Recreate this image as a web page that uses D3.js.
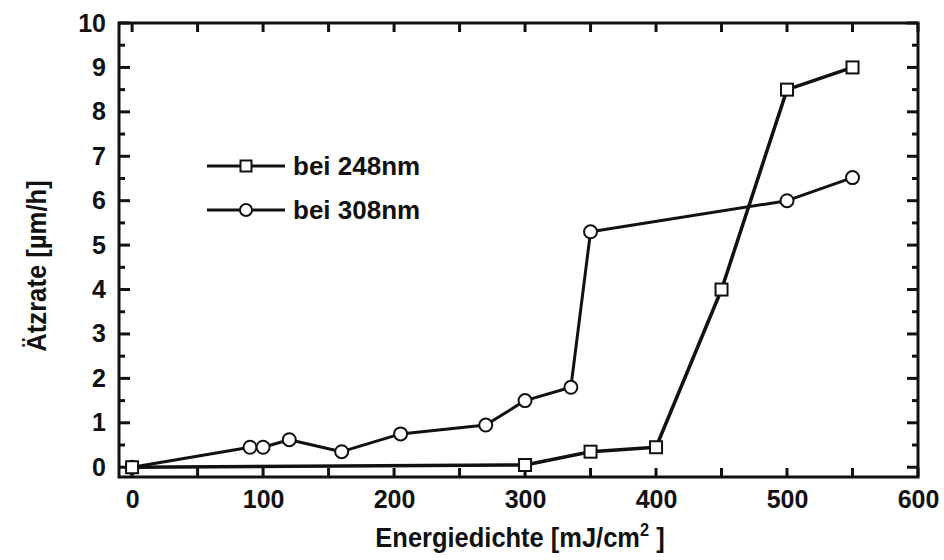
<!DOCTYPE html>
<html>
<head>
<meta charset="utf-8">
<script src="https://cdn.jsdelivr.net/npm/d3@7"></script>
<style>
  html, body { margin: 0; padding: 0; background: #fff; }
  svg text { font-family: "Liberation Sans", Arial, Helvetica, sans-serif; font-weight: bold; fill: #111; }
</style>
</head>
<body>
<svg id="chart" width="944" height="560"></svg>
<script>
// Etch rate vs. energy density for two laser wavelengths
const energy248 = [0, 300, 350, 400, 450, 500, 550];
const rate248   = [0, 0.05, 0.35, 0.45, 4.0, 8.5, 9.0];

const energy308 = [0, 90, 100, 120, 160, 205, 270, 300, 335, 350, 500, 550];
const rate308   = [0, 0.45, 0.45, 0.62, 0.35, 0.75, 0.95, 1.5, 1.8, 5.3, 6.0, 6.52];

const xTicks = [0, 100, 200, 300, 400, 500, 600];
const yTicks = [0, 1, 2, 3, 4, 5, 6, 7, 8, 9, 10];
const seriesNames = ["bei 248nm", "bei 308nm"];

const svg = d3.select("#chart");
const plot = { left: 119, right: 918, top: 23, bottom: 477 };

const x = d3.scaleLinear().domain([-10, 600]).range([plot.left, plot.right]);
const y = d3.scaleLinear().domain([-0.22, 10]).range([plot.bottom, plot.top]);

const ink = "#111";

// Frame
svg.append("rect")
  .attr("x", plot.left).attr("y", plot.top)
  .attr("width", plot.right - plot.left).attr("height", plot.bottom - plot.top)
  .attr("fill", "none").attr("stroke", ink).attr("stroke-width", 3);

// Tick labels
const bottomAxis = d3.axisBottom(x).tickValues(xTicks).tickSize(0).tickPadding(13).tickFormat(d3.format("d"));
const gx = svg.append("g").attr("transform", `translate(0,${plot.bottom})`).call(bottomAxis);
gx.select(".domain").remove();
gx.selectAll("text").attr("font-size", 25).attr("dy", "0.71em");

const leftAxis = d3.axisLeft(y).tickValues(yTicks).tickSize(0).tickPadding(13).tickFormat(d3.format("d"));
const gy = svg.append("g").attr("transform", `translate(${plot.left},0)`).call(leftAxis);
gy.select(".domain").remove();
gy.selectAll("text").attr("font-size", 25);

// Inward ticks on all four sides
const xMinor = d3.range(0, 601, 50);
const yMinor = d3.range(0.5, 10, 1);
const tickG = svg.append("g").attr("stroke", ink).attr("stroke-width", 3);
xMinor.forEach(v => {
  const len = 9;
  tickG.append("line").attr("x1", x(v)).attr("x2", x(v)).attr("y1", plot.bottom).attr("y2", plot.bottom - len);
  tickG.append("line").attr("x1", x(v)).attr("x2", x(v)).attr("y1", plot.top).attr("y2", plot.top + len);
});
yTicks.forEach(v => {
  tickG.append("line").attr("x1", plot.left).attr("x2", plot.left + 11).attr("y1", y(v)).attr("y2", y(v));
  tickG.append("line").attr("x1", plot.right).attr("x2", plot.right - 11).attr("y1", y(v)).attr("y2", y(v));
});
yMinor.forEach(v => {
  tickG.append("line").attr("x1", plot.left).attr("x2", plot.left + 6).attr("y1", y(v)).attr("y2", y(v));
  tickG.append("line").attr("x1", plot.right).attr("x2", plot.right - 6).attr("y1", y(v)).attr("y2", y(v));
});

// Axis titles
const xTitleX = 520;
const xt = svg.append("text")
  .attr("transform", `translate(${xTitleX},547) scale(0.91,1)`)
  .attr("text-anchor", "middle").attr("font-size", 28);
xt.append("tspan").text("Energiedichte [mJ/cm");
xt.append("tspan").attr("font-size", 18).attr("dy", -11).text("2");
xt.append("tspan").attr("dy", 11).text(" ]");

svg.append("text")
  .attr("transform", `translate(46,266) rotate(-90) scale(0.95,1)`)
  .attr("text-anchor", "middle").attr("font-size", 27)
  .text("Ätzrate [µm/h]");

// Series
const line = d3.line().x(d => x(d[0])).y(d => y(d[1]));
const s248 = energy248.map((e, i) => [e, rate248[i]]);
const s308 = energy308.map((e, i) => [e, rate308[i]]);

svg.append("path").datum(s308).attr("d", line)
  .attr("fill", "none").attr("stroke", ink).attr("stroke-width", 3).attr("stroke-linejoin", "round");
svg.append("path").datum(s248).attr("d", line)
  .attr("fill", "none").attr("stroke", ink).attr("stroke-width", 3.5).attr("stroke-linejoin", "round");

svg.append("g").selectAll("circle").data(s308).join("circle")
  .attr("cx", d => x(d[0])).attr("cy", d => y(d[1])).attr("r", 6.5)
  .attr("fill", "#fff").attr("stroke", ink).attr("stroke-width", 2);

const sq = 12;
svg.append("g").selectAll("rect").data(s248).join("rect")
  .attr("x", d => x(d[0]) - sq / 2).attr("y", d => y(d[1]) - sq / 2)
  .attr("width", sq).attr("height", sq)
  .attr("fill", "#fff").attr("stroke", ink).attr("stroke-width", 2);

// Legend
const legend = svg.append("g");
const legY = [166, 210];
seriesNames.forEach((name, i) => {
  const ly = legY[i];
  legend.append("line").attr("x1", 207).attr("x2", 285).attr("y1", ly).attr("y2", ly)
    .attr("stroke", ink).attr("stroke-width", 3);
  if (i === 0) {
    legend.append("rect").attr("x", 246 - 5.5).attr("y", ly - 5.5).attr("width", 11).attr("height", 11)
      .attr("fill", "#fff").attr("stroke", ink).attr("stroke-width", 2);
  } else {
    legend.append("circle").attr("cx", 246).attr("cy", ly).attr("r", 6)
      .attr("fill", "#fff").attr("stroke", ink).attr("stroke-width", 2);
  }
  legend.append("text").attr("x", 293).attr("y", ly + 9).attr("font-size", 26).text(name);
});
</script>
</body>
</html>
